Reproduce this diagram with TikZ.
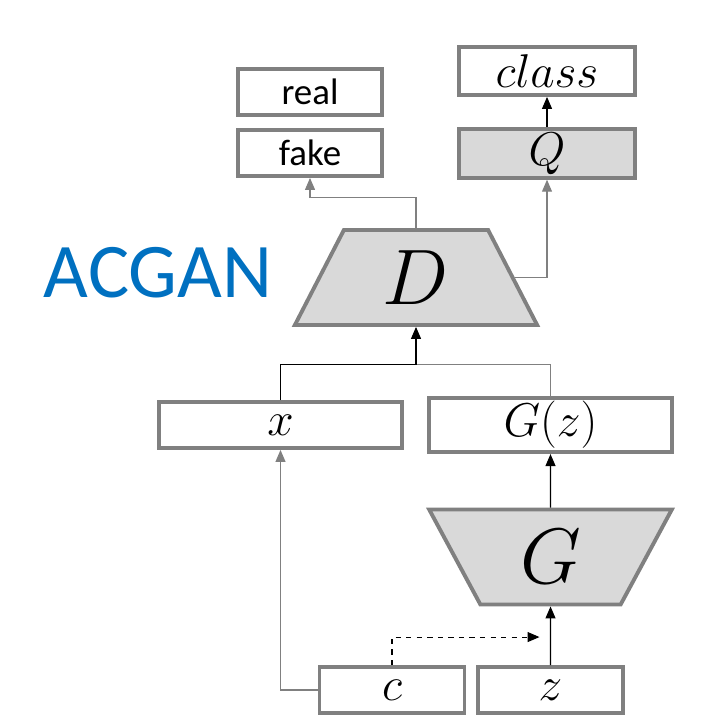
\documentclass[tikz,border=0pt]{standalone}
\usepackage{fontspec}
\setmainfont{Carlito}
\usepackage{graphicx}
\usepackage{tikz}
\usetikzlibrary{shapes.geometric,arrows.meta,positioning,calc}
\definecolor{edge}{HTML}{808080}
\definecolor{body}{HTML}{D9D9D9}
\definecolor{title}{HTML}{0070C0}
\newcommand{\boxmath}[1]{\scalebox{1.3}{$#1$}}

\begin{document}
\begin{tikzpicture}[
  box/.style={draw=edge, fill=white, line width=2.2pt, minimum height=0.92cm, inner sep=2pt, font=\fontsize{21}{24}\selectfont},
  net/.style={trapezium, trapezium stretches=true, trapezium angle=68, draw=edge, fill=body, line width=2.2pt, minimum height=1.9cm, minimum width=4.86cm, font=\fontsize{24}{28}\selectfont},
  conn/.style={black, line width=0.6pt, -{Triangle[length=0.24cm,width=0.2cm]}},
  link/.style={black, line width=0.6pt}
]
\useasboundingbox (0,0) rectangle (14.3,14.36);

% ---- heads ----
\node[box, minimum width=2.88cm] (real) at (6.2,12.52) {real};
\node[box, minimum width=2.88cm] (fake) at (6.2,11.3) {fake};
\node[box, minimum width=3.52cm, minimum height=0.96cm] (class) at (10.94,12.94) {\boxmath{class}};
\node[box, minimum width=3.52cm, minimum height=0.96cm, fill=body] (Q) at (10.94,11.29) {\boxmath{Q}};

% ---- discriminator ----
\node[net] (D) at (8.32,8.81) {\scalebox{1.8}{$D$}};
\node[font=\fontsize{44}{48}\selectfont, text=title] (acgan) at (3.16,8.9) {ACGAN};

% ---- samples ----
\node[box, minimum width=4.86cm] (x) at (5.61,5.86) {\boxmath{x}};
\node[box, minimum width=4.86cm] (gz) at (11.01,5.86) {\boxmath{G(z)}};

% ---- generator ----
\node[net, shape border rotate=180] (G) at (11.01,3.22) {\scalebox{1.8}{$G$}};
\node[box, minimum width=2.9cm] (c) at (7.84,0.56) {\boxmath{c}};
\node[box, minimum width=2.9cm] (z) at (11.01,0.56) {\boxmath{z}};

\coordinate (join) at ($(D.south)+(0,-0.76)$);
\coordinate (cz) at ($(z.north)+(-0.22,0.56)$);

\draw[conn, edge] (D.north) -- ++(0,0.62) -| (fake.south);
\draw[conn, edge] (D.east) -| (Q.south);
\draw[conn] (Q.north) -- (class.south);
\draw[link] (x.north) |- (join);
\draw[link, edge] (gz.north) |- (join);
\draw[conn] (join) -- (D.south);
\draw[conn] (G.north) -- (gz.south);
\draw[conn] (z.north) -- (G.south);
\draw[conn, edge] (c.west) -| (x.south);
\draw[conn, dashed] (c.north) |- (cz);

\end{tikzpicture}
\end{document}
